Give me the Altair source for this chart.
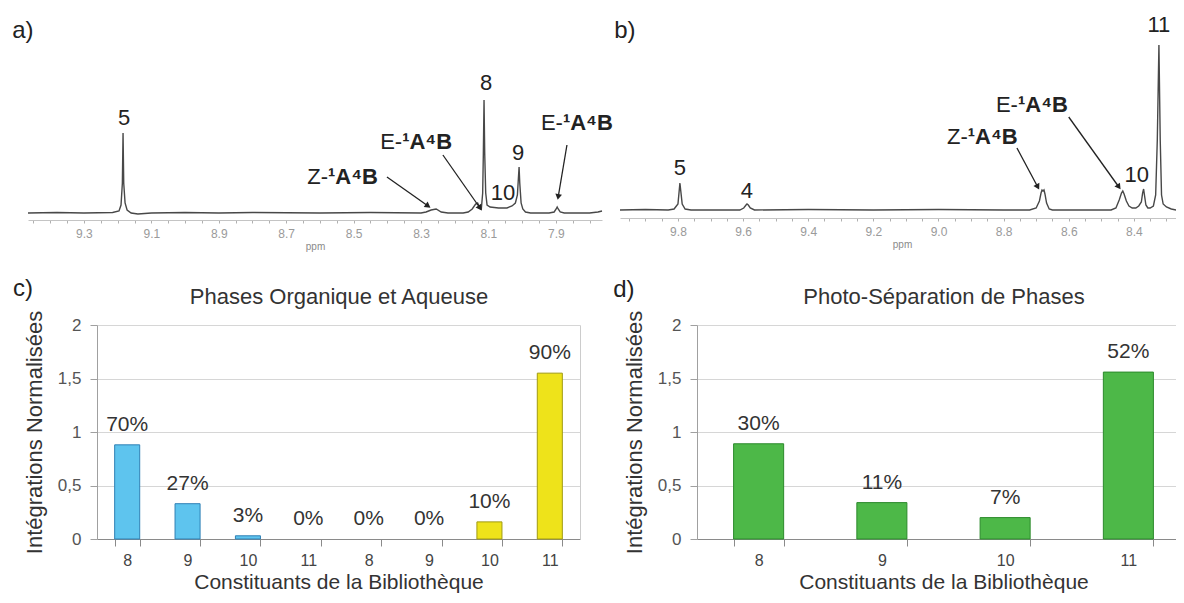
import math
import altair as alt
import pandas as pd

W, H = 1168, 587
FONT = "Liberation Sans"
INK = "#222222"

# ---------------- (a) spectrum : ppm / intensity ----------------
A_PPM = [9.466, 9.38, 9.30, 9.215, 9.196, 9.190, 9.186, 9.184, 9.182, 9.178, 9.172, 9.160,
         9.140, 9.10, 9.0, 8.90, 8.80, 8.60, 8.45, 8.30, 8.285, 8.270, 8.255, 8.240, 8.220,
         8.175, 8.160, 8.148, 8.138, 8.132, 8.127, 8.121, 8.117, 8.115, 8.113, 8.111, 8.108,
         8.104, 8.095, 8.070, 8.045, 8.030, 8.020, 8.014, 8.011, 8.009, 8.007, 8.003, 7.998,
         7.990, 7.975, 7.92, 7.905, 7.899, 7.896, 7.893, 7.887, 7.875, 7.80, 7.775, 7.763]
A_INT = [0, 0.5, 0, 0.5, 2, 8, 30, 80, 30, 10, 3, 0,
         -1, 0, 0.5, 0, 0.5, 0, 0.5, 0, 1, 3, 4, 1, 0,
         0, 1, 4, 9, 10, 6, 4, 20, 60, 113, 60, 20,
         8, 6, 5, 5, 7, 10, 18, 35, 46, 30, 10, 4,
         1, 0, 0, 1, 4, 6, 4, 1, 0, 0, 1, 2]
A_LABELS = ["5", "8", "9", "10"]
A_LABEL_PPM = [9.181, 8.107, 8.012, 8.057]
A_LABEL_INT = [95, 130, 60, 20]
A_TAG_PREFIX = ["Z-", "E-", "E-"]
A_TAG_SUFFIX = ["¹A⁴B", "¹A⁴B", "¹A⁴B"]
A_TAG_PPM = [8.576, 8.356, 7.879]
A_TAG_INT = [36, 71, 90]
A_ARROW_PPM0 = [8.401, 8.235, 7.867]
A_ARROW_INT0 = [36, 58, 68]
A_ARROW_PPM1 = [8.279, 8.125, 7.893]
A_ARROW_INT1 = [7, 5, 16]
A_LETTERS = ["a)", "c)"]
A_LETTER_PPM = [9.481, 9.481]
A_LETTER_INT = [182, -76]

# ---------------- (b) spectrum ----------------
B_PPM = [9.978, 9.90, 9.83, 9.812, 9.800, 9.796, 9.794, 9.791, 9.787, 9.778, 9.76, 9.70,
         9.61, 9.598, 9.591, 9.588, 9.584, 9.578, 9.565, 9.40, 9.20, 9.00, 8.80, 8.72,
         8.700, 8.690, 8.685, 8.682, 8.679, 8.676, 8.673, 8.668, 8.660, 8.650, 8.47, 8.455,
         8.445, 8.438, 8.434, 8.430, 8.423, 8.415, 8.405, 8.394, 8.385, 8.377, 8.373, 8.370,
         8.367, 8.363, 8.357, 8.350, 8.340, 8.333, 8.328, 8.323, 8.319, 8.315, 8.310, 8.300,
         8.285, 8.270, 8.246]
B_INT = [0, 0.5, 0, 1, 6, 20, 27, 18, 6, 1, 0, 0,
         0, 2, 5, 6, 5, 2, 0, 0.5, 0, 0.5, 0, 0,
         2, 9, 17, 20, 19, 20, 16, 7, 1, 0, 0, 2,
         10, 17, 19, 16, 9, 4, 2, 2, 4, 8, 17, 21,
         14, 5, 2, 2, 4, 15, 70, 165, 70, 15, 6, 3,
         1, 0, 0]
B_LABELS = ["5", "4", "10", "11"]
B_LABEL_PPM = [9.794, 9.588, 8.391, 8.323]
B_LABEL_INT = [42, 19, 35, 185]
B_TAG_PREFIX = ["Z-", "E-"]
B_TAG_SUFFIX = ["¹A⁴B", "¹A⁴B"]
B_TAG_PPM = [8.910, 8.756]
B_TAG_INT = [73, 105]
B_ARROW_PPM0 = [8.759, 8.600]
B_ARROW_INT0 = [62, 93]
B_ARROW_PPM1 = [8.695, 8.446]
B_ARROW_INT1 = [23, 23]
B_LETTERS = ["b)", "d)"]
B_LETTER_PPM = [9.963, 9.966]
B_LETTER_INT = [179, -80]

# ---------------- (c) bars ----------------
C_KEYS = ["O8", "O9", "O10", "O11", "A8", "A9", "A10", "A11"]
C_PHASE = ["Organique"] * 4 + ["Aqueuse"] * 4
C_VALUES = [0.88, 0.33, 0.03, 0.0, 0.0, 0.0, 0.16, 1.55]
C_LABELS = ["70%", "27%", "3%", "0%", "0%", "0%", "10%", "90%"]

# ---------------- (d) bars ----------------
D_KEYS = ["8", "9", "10", "11"]
D_VALUES = [0.89, 0.34, 0.20, 1.56]
D_LABELS = ["30%", "11%", "7%", "52%"]

Y_TICKS = [0, 0.5, 1, 1.5, 2]
X_TITLE = "Constituants de la Bibliothèque"
Y_TITLE = "Intégrations Normalisées"


def spectrum(ppm, inten, xdom, xrange, yrange, axis_offset, parity, ticks,
             labels, lab_p, lab_i, pre, suf, tag_p, tag_i, a0p, a0i, a1p, a1i,
             letters, let_p, let_i):
    xs = alt.Scale(domain=xdom, range=xrange, nice=False, zero=False)
    ys = alt.Scale(domain=[0, 200], range=yrange, nice=False, zero=False)
    xslope = (xrange[0] - xrange[1]) / (xdom[1] - xdom[0])
    yslope = (yrange[0] - yrange[1]) / 200.0
    ax = alt.Axis(orient="bottom", offset=axis_offset, values=ticks,
                  labelExpr=f"(round(datum.value*100) % 20 == {parity}) ? format(datum.value, '.1f') : ''",
                  labelOverlap=False, labelFontSize=12, labelColor="#9a9a9a", labelPadding=5,
                  tickSize=3, tickColor="#b0b0b0", domainColor="#c4c4c4", grid=False,
                  title="ppm", titleFontSize=10, titleFontWeight="normal", titleColor="#8a8a8a",
                  titlePadding=2)

    def XY(axis=None):
        return dict(x=alt.X("p:Q", scale=xs, axis=axis), y=alt.Y("i:Q", scale=ys, axis=None))

    line = alt.Chart(pd.DataFrame({"p": ppm, "i": inten})).mark_line(
        color="#484848", strokeWidth=1.4).encode(**XY(axis=ax))
    lab = alt.Chart(pd.DataFrame({"t": labels, "p": lab_p, "i": lab_i})).mark_text(
        fontSize=22, color=INK, baseline="middle", align="center").encode(text="t:N", **XY())
    tags = pd.DataFrame({"pre": pre, "suf": suf, "p": tag_p, "i": tag_i})
    tpre = alt.Chart(tags).mark_text(fontSize=22, color=INK, baseline="middle", align="right").encode(
        text="pre:N", **XY())
    tsuf = alt.Chart(tags).mark_text(fontSize=22, color=INK, baseline="middle", align="left",
                                     fontWeight="bold").encode(text="suf:N", **XY())
    ang = [math.degrees(math.atan2((i0 - i1) * yslope, (p0 - p1) * xslope)) % 360
           for p0, i0, p1, i1 in zip(a0p, a0i, a1p, a1i)]
    arr_df = pd.DataFrame({"p0": a0p, "i0": a0i, "p1": a1p, "i1": a1i, "ang": ang})
    arr = alt.Chart(arr_df).mark_rule(color=INK, strokeWidth=1.3).encode(
        x=alt.X("p0:Q", scale=xs, axis=None), x2="p1", y=alt.Y("i0:Q", scale=ys, axis=None), y2="i1")
    head = alt.Chart(arr_df).mark_point(shape="triangle-right", filled=True, size=45, color=INK,
                                        opacity=1).encode(
        x=alt.X("p1:Q", scale=xs, axis=None), y=alt.Y("i1:Q", scale=ys, axis=None),
        angle=alt.Angle("ang:Q", scale=None))
    let = alt.Chart(pd.DataFrame({"t": letters, "p": let_p, "i": let_i})).mark_text(
        fontSize=24, color=INK, baseline="middle", align="center").encode(text="t:N", **XY())
    return alt.layer(line, lab, tpre, tsuf, arr, head, let).resolve_axis(x="independent", y="independent")


panel_a = spectrum(A_PPM, A_INT, [7.763, 9.466], [594, 20], [205, 5], -375, 10,
                   [round((780 + 5 * k) / 100, 2) for k in range(34)],
                   A_LABELS, A_LABEL_PPM, A_LABEL_INT, A_TAG_PREFIX, A_TAG_SUFFIX, A_TAG_PPM, A_TAG_INT,
                   A_ARROW_PPM0, A_ARROW_INT0, A_ARROW_PPM1, A_ARROW_INT1,
                   A_LETTERS, A_LETTER_PPM, A_LETTER_INT)
panel_b = spectrum(B_PPM, B_INT, [8.246, 9.978], [1176, 612], [202, 2], -377, 0,
                   [round((825 + 5 * k) / 100, 2) for k in range(35)],
                   B_LABELS, B_LABEL_PPM, B_LABEL_INT, B_TAG_PREFIX, B_TAG_SUFFIX, B_TAG_PPM, B_TAG_INT,
                   B_ARROW_PPM0, B_ARROW_INT0, B_ARROW_PPM1, B_ARROW_INT1,
                   B_LETTERS, B_LETTER_PPM, B_LETTER_INT)


def bar_panel(keys, values, labels, xrange, pin, left_offset, title, fill, stroke, phase=None,
              right_offset=None, label_expr=None):
    xs = alt.Scale(domain=keys, range=xrange, paddingInner=pin, paddingOuter=pin / 2)
    ys = alt.Scale(domain=[0, 2], range=[531, 317], nice=False, zero=True)
    df = pd.DataFrame({"k": keys, "v": values, "lab": labels,
                       "ph": phase if phase else ["x"] * len(keys)})
    xaxis = alt.Axis(orient="bottom", offset=-56, domainColor="#8a8a8a", tickColor="#8a8a8a",
                     tickBand="extent", tickSize=7, labelFontSize=16, labelColor="#444444",
                     labelPadding=6, labelAngle=0, grid=False, title=X_TITLE, titleFontSize=21,
                     titleFontWeight="normal", titleColor="#333333", titlePadding=3,
                     **({"labelExpr": label_expr} if label_expr else {}))
    yaxis = alt.Axis(orient="left", offset=left_offset, values=Y_TICKS,
                     labelExpr="replace(format(datum.value, '~g'), '.', ',')",
                     domainColor="#a0a0a0", tickColor="#a0a0a0", tickSize=7, labelFontSize=17,
                     labelColor="#555555", labelPadding=9, grid=True, gridColor="#d6d6d6",
                     title=Y_TITLE, titleFontSize=22, titleFontWeight="normal",
                     titleColor="#333333", titlePadding=11)
    nonzero = "datum.v > 0"
    if phase:
        col = alt.Color("ph:N", scale=alt.Scale(domain=["Organique", "Aqueuse"], range=fill), legend=None)
        stk = alt.condition(nonzero,
                            alt.Stroke("ph:N", scale=alt.Scale(domain=["Organique", "Aqueuse"], range=stroke),
                                       legend=None),
                            alt.value("transparent"))
        bars = alt.Chart(df).mark_bar(strokeWidth=1).encode(
            x=alt.X("k:N", scale=xs, sort=keys, axis=xaxis),
            y=alt.Y("v:Q", scale=ys, axis=yaxis), color=col, stroke=stk)
    else:
        bars = alt.Chart(df).mark_bar(strokeWidth=1, color=fill[0], stroke=stroke[0]).encode(
            x=alt.X("k:N", scale=xs, sort=keys, axis=xaxis),
            y=alt.Y("v:Q", scale=ys, axis=yaxis))
    top = alt.Axis(orient="top", offset=-300, domain=False, ticks=False, labels=False, grid=False,
                   title=title, titleFontSize=22, titleFontWeight="normal", titleColor="#333333",
                   titlePadding=0)
    if right_offset is not None:
        ry = alt.Axis(orient="right", offset=right_offset, domainColor="#cccccc", ticks=False,
                      labels=False, grid=False, title=None)
    else:
        ry = None
    txt = alt.Chart(df).mark_text(dy=-20, fontSize=21, color="#333333", baseline="middle").encode(
        x=alt.X("k:N", scale=xs, sort=keys, axis=top),
        y=alt.Y("v:Q", scale=ys, axis=ry), text="lab:N")
    return alt.layer(bars, txt).resolve_axis(x="independent", y="independent")


panel_c = bar_panel(C_KEYS, C_VALUES, C_LABELS, [89, 572], 0.585, -89, "Phases Organique et Aqueuse",
                    ["#5ec4ee", "#eee31a"], ["#2f80b5", "#a09a12"], phase=C_PHASE, right_offset=-596,
                    label_expr="substring(datum.label, 1)")
panel_d = bar_panel(D_KEYS, D_VALUES, D_LABELS, [689, 1182], 0.594, -689, "Photo-Séparation de Phases",
                    ["#4db848"], ["#2c8a2c"])

chart = alt.layer(panel_a, panel_b, panel_c, panel_d).resolve_scale(
    x="independent", y="independent").properties(
    width=W, height=H, autosize=alt.AutoSizeParams(type="none"), padding=0
).configure(font=FONT).configure_view(stroke=None)

chart.save("out.html", embed_options={"renderer": "svg", "actions": False})
